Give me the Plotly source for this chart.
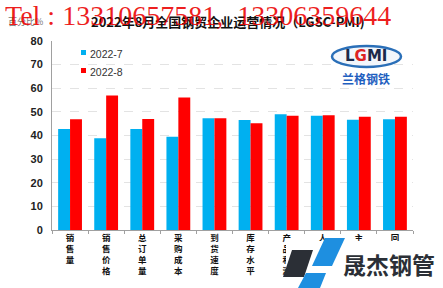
import plotly.graph_objects as go

categories = ["销售量", "销售价格", "总订单量", "采购成本", "到货速度", "库存水平",
              "产品利润", "人员数量", "主营收入", "回款速度"]
jul_values = [42.7, 38.8, 42.7, 39.5, 47.3, 46.6, 49.0, 48.4, 46.7, 46.9]
aug_values = [46.9, 56.9, 47.0, 56.1, 47.3, 45.2, 48.4, 48.6, 47.9, 47.9]
series_names = ["2022-7", "2022-8"]
y_ticks = [0, 10, 20, 30, 40, 50, 60, 70, 80]

W, H = 443, 288
L, R, T, B = 52, 30, 41, 58
PW, PH = W - L - R, H - T - B

def px(x, y):
    return (x - L) / PW, (H - B - y) / PH

vert_labels = ["<br>".join(list(c)) for c in categories]
CYAN, RED = "#00B0F0", "#FF0000"

fig = go.Figure()
fig.add_trace(go.Bar(x=vert_labels, y=jul_values, name=series_names[0], marker_color=CYAN, marker_line_width=0))
fig.add_trace(go.Bar(x=vert_labels, y=aug_values, name=series_names[1], marker_color=RED, marker_line_width=0))

font_main = "Liberation Sans, Arial, sans-serif"
fig.update_layout(
    width=W, height=H, margin=dict(l=L, r=R, t=T, b=B, pad=0),
    paper_bgcolor="white", plot_bgcolor="white",
    barmode="group", bargap=0.34, bargroupgap=0,
    showlegend=False,
    font=dict(family=font_main, color="#222"),
)
fig.update_yaxes(range=[0, 80], tickvals=y_ticks, showgrid=True, gridcolor="#e3e3e3", griddash="dash",
                 gridwidth=1, showline=True, linecolor="#a0a0a0", linewidth=1, zeroline=False,
                 tickfont=dict(size=11, family="Liberation Sans", color="#222", weight="bold"),
                 ticks="", ticklabelstandoff=6)
fig.update_xaxes(showline=True, linecolor="#a0a0a0", linewidth=1, ticks="outside", tickson="boundaries",
                 ticklen=3, tickcolor="#a0a0a0", tickangle=0,
                 tickfont=dict(size=8.5, family="Noto Sans CJK SC", color="#111", weight="bold"))

ann = []
# legend (manual)
for i, (nm, col) in enumerate(zip(series_names, [CYAN, RED])):
    x0, y0 = px(88, 54 + i * 18)
    ann.append(dict(xref="paper", yref="paper", x=x0, y=y0, xanchor="left", yanchor="middle",
                    text=nm, showarrow=False, font=dict(size=10.5, color="#333", family=font_main)))
    xa, ya = px(81, 50 + i * 18)
    xb, yb = px(86, 55 + i * 18)
    fig.add_shape(type="rect", xref="paper", yref="paper", x0=xa, x1=xb, y0=yb, y1=ya,
                  fillcolor=col, line_width=0)

# unit label
x0, y0 = px(6, 21)
ann.append(dict(xref="paper", yref="paper", x=x0, y=y0, xanchor="left", yanchor="middle",
                text="百分比%", showarrow=False, font=dict(size=9, color="#777", family="Noto Sans CJK SC")))
# title
x0, y0 = px(228, 21.5)
ann.append(dict(xref="paper", yref="paper", x=x0, y=y0, xanchor="center", yanchor="middle",
                text="<b>2022年8月全国钢贸企业运营情况（LGSC-PMI)</b>", showarrow=False,
                font=dict(size=13, color="#111", family="Noto Sans CJK SC")))
# watermark
x0, y0 = px(3, 16)
ann.append(dict(xref="paper", yref="paper", x=x0, y=y0, xanchor="left", yanchor="middle",
                text="Tel : 13310657581,&nbsp;&nbsp;13306359644", showarrow=False,
                font=dict(size=28, color="rgba(235,0,0,0.88)", family="Liberation Serif")))

# LGMI logo
xa, ya = px(332, 46)
xb, yb = px(401, 67)
fig.add_shape(type="circle", xref="paper", yref="paper", x0=xa, x1=xb, y0=yb, y1=ya,
              line=dict(color="#2a6fb8", width=2.5), fillcolor="#f2f6fb")
x0, y0 = px(366, 56.5)
ann.append(dict(xref="paper", yref="paper", x=x0, y=y0, xanchor="center", yanchor="middle",
                text="<b>L<span style='color:#d22'>G</span>MI</b>", showarrow=False,
                font=dict(size=15, color="#1b2a4a", family="DejaVu Sans")))
x0, y0 = px(366, 78)
ann.append(dict(xref="paper", yref="paper", x=x0, y=y0, xanchor="center", yanchor="middle",
                text="<b>兰格钢铁</b>", showarrow=False, font=dict(size=12, color="#1f5fbf", family="Noto Sans CJK SC")))

# bottom-right logo (white backing covers part of the labels, as in the source image)
def path(points):
    s = ""
    for i, (x, y) in enumerate(points):
        a, b = px(x, y)
        s += ("M" if i == 0 else "L") + f"{a:.4f},{b:.4f} "
    return s + "Z"

xa, ya = px(286, 241)
xb, yb = px(443, 288)
fig.add_shape(type="rect", xref="paper", yref="paper", x0=xa, x1=xb, y0=yb, y1=ya,
              fillcolor="white", line_width=0, layer="above")
fig.add_shape(type="path", xref="paper", yref="paper", path=path([(292, 250), (313, 250), (304, 277), (283, 277)]),
              fillcolor="#2b2f36", line_width=0)
fig.add_shape(type="path", xref="paper", yref="paper", path=path([(325, 238), (345, 238), (332, 266), (312, 266)]),
              fillcolor="#1e8fe0", line_width=0)
fig.add_shape(type="path", xref="paper", yref="paper", path=path([(306, 273), (326, 273), (320, 288), (298, 288)]),
              fillcolor="#1e8fe0", line_width=0)
x0, y0 = px(389, 264)
ann.append(dict(xref="paper", yref="paper", x=x0, y=y0, xanchor="center", yanchor="middle",
                text="<b>晟杰钢管</b>", showarrow=False, font=dict(size=23, color="#2b2f36", family="Noto Sans CJK SC")))

fig.update_layout(annotations=ann)
fig.write_html("out.html")
